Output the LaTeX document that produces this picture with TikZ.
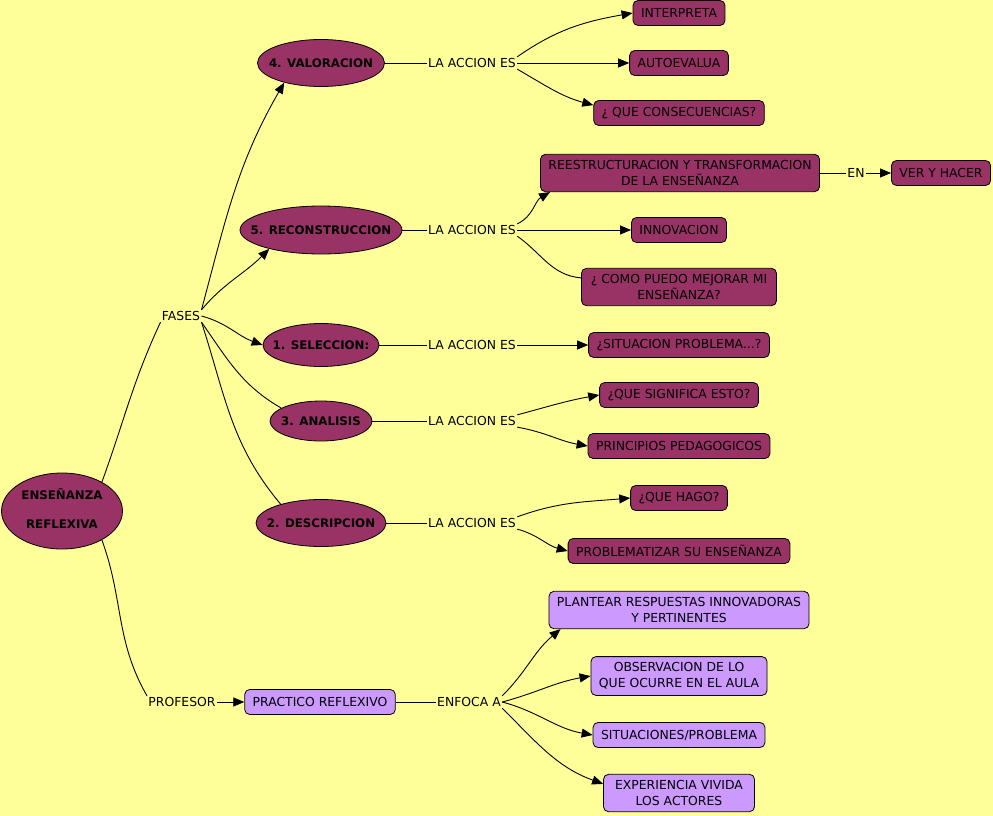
\documentclass[tikz,border=0pt]{standalone}
\usepackage{fontspec}
\setmainfont{DejaVu Sans}
\usetikzlibrary{arrows.meta,shapes.geometric}
\definecolor{fondo}{HTML}{FFFF99}
\definecolor{vino}{HTML}{993366}
\definecolor{lila}{HTML}{CC99FF}
\newcommand{\rotulo}[1]{\makebox[0pt]{#1}}

\begin{document}
\begin{tikzpicture}[x=1pt, y=1pt, line width=0.9pt,
    fase/.style={ellipse, draw, fill=vino, inner sep=0pt, line width=0.8pt, font=\bfseries\fontsize{11.8}{14}\selectfont},
    accion/.style={rectangle, draw, fill=vino, rounded corners=5pt, inner xsep=8pt, inner ysep=6pt, minimum height=25pt, align=center, line width=0.8pt, font=\fontsize{12.4}{16}\selectfont},
    idea/.style={accion, fill=lila},
    enlace/.style={inner sep=1pt, font=\fontsize{12.4}{14}\selectfont},
    flecha/.style={-{Triangle[length=11pt, width=9pt]}}]
      \fill[fondo] (0, 0) rectangle (993, -816);
      \useasboundingbox (0, 0) rectangle (993, -816);

      % Nodes
      \node[fase, minimum width=121pt, minimum height=76pt] at (62, -511) (ens) {\rotulo{\begin{tabular}{@{}c@{}}ENSEÑANZA\\[15pt] REFLEXIVA\end{tabular}}};
      \node[enlace] at (181, -316) (fases) {FASES};
      \node[enlace] at (182, -702) (prof) {PROFESOR};

      \node[fase, minimum width=127pt, minimum height=47pt] at (321, -63) (val) {\rotulo{4. VALORACION}};
      \node[fase, minimum width=162pt, minimum height=48pt] at (321, -230) (rec) {\rotulo{5. RECONSTRUCCION}};
      \node[fase, minimum width=116pt, minimum height=43pt] at (321, -345) (sel) {\rotulo{1. SELECCION:}};
      \node[fase, minimum width=102pt, minimum height=40pt] at (321, -421) (ana) {\rotulo{3. ANALISIS}};
      \node[fase, minimum width=130pt, minimum height=47pt] at (321, -523) (des) {\rotulo{2. DESCRIPCION}};

      \node[enlace] at (472, -63) (acc4) {LA ACCION ES};
      \node[enlace] at (472, -230) (acc5) {LA ACCION ES};
      \node[enlace] at (472, -345) (acc1) {LA ACCION ES};
      \node[enlace] at (472, -421) (acc3) {LA ACCION ES};
      \node[enlace] at (472, -523) (acc2) {LA ACCION ES};

      \node[accion] at (679, -13) (interp) {INTERPRETA};
      \node[accion] at (679, -63) (autoev) {AUTOEVALUA};
      \node[accion] at (679, -113) (consec) {¿ QUE CONSECUENCIAS?};
      \node[accion] at (680, -173) (reest) {REESTRUCTURACION Y TRANSFORMACION\\DE LA ENSEÑANZA};
      \node[enlace] at (856, -173) (en) {EN};
      \node[accion] at (941, -173) (ver) {VER Y HACER};
      \node[accion] at (679, -230) (innov) {INNOVACION};
      \node[accion, minimum width=195pt] at (679, -287) (como) {¿ COMO PUEDO MEJORAR MI\\ENSEÑANZA?};
      \node[accion] at (679, -345) (situ) {¿SITUACION PROBLEMA...?};
      \node[accion] at (679, -395) (signif) {¿QUE SIGNIFICA ESTO?};
      \node[accion] at (679, -446) (princ) {PRINCIPIOS PEDAGOGICOS};
      \node[accion] at (679, -498) (hago) {¿QUE HAGO?};
      \node[accion] at (679, -551) (probl) {PROBLEMATIZAR SU ENSEÑANZA};

      \node[idea] at (320, -702) (prac) {PRACTICO REFLEXIVO};
      \node[enlace] at (469, -702) (enf) {ENFOCA A};
      \node[idea] at (679, -610) (plant) {PLANTEAR RESPUESTAS INNOVADORAS\\Y PERTINENTES};
      \node[idea] at (679, -676) (obs) {OBSERVACION DE LO\\QUE OCURRE EN EL AULA};
      \node[idea] at (679, -735) (sitpro) {SITUACIONES/PROBLEMA};
      \node[idea, minimum width=151pt] at (679, -793) (exper) {EXPERIENCIA VIVIDA\\LOS ACTORES};

      % Connectors
      \draw (ens.36) to[out=70, in=245] (fases.south west);
      \draw (ens.-36) to[out=-70, in=120] (prof.north west);

      \draw[flecha] (fases.north east) to[out=75, in=240] (val.-152);
      \draw[flecha] (fases.north east) to[out=50, in=225] (rec.-160);
      \draw[flecha] (fases.east) to[out=-15, in=160] (sel.west);
      \draw (fases.south east) to[out=-55, in=150] (ana.162);
      \draw (fases.south east) to[out=-72, in=130] (des.155);

      \draw (val) -- (acc4);
      \draw (rec) -- (acc5);
      \draw (sel) -- (acc1);
      \draw (ana) -- (acc3);
      \draw (des) -- (acc2);

      \draw[flecha] (acc4.north east) to[out=35, in=190] (interp.west);
      \draw[flecha] (acc4) -- (autoev);
      \draw[flecha] (acc4.south east) to[out=-30, in=165] ([yshift=-5pt]consec.north west);

      \draw[flecha] (acc5.north east) to[out=25, in=210] ([xshift=10pt]reest.south west);
      \draw[flecha] (acc5) -- (innov);
      \draw (acc5.south east) to[out=-35, in=175] ([yshift=-10pt]como.north west);
      \draw (reest) -- (en);
      \draw[flecha] (en) -- (ver);

      \draw[flecha] (acc1) -- (situ);
      \draw[flecha] (acc3.north east) to[out=15, in=190] (signif.west);
      \draw[flecha] (acc3.south east) to[out=-10, in=170] (princ.west);
      \draw[flecha] (acc2.north east) to[out=20, in=185] (hago.west);
      \draw[flecha] (acc2.south east) to[out=-15, in=165] (probl.west);

      \draw[flecha] (prof) -- (prac);
      \draw (prac) -- (enf);
      \draw[flecha] (enf.north east) to[out=45, in=220] ([xshift=12pt]plant.south west);
      \draw[flecha] (enf.east) to[out=15, in=190] (obs.west);
      \draw[flecha] (enf.east) to[out=-15, in=170] (sitpro.west);
      \draw[flecha] (enf.south east) to[out=-45, in=160] ([yshift=-10pt]exper.north west);
\end{tikzpicture}
\end{document}
